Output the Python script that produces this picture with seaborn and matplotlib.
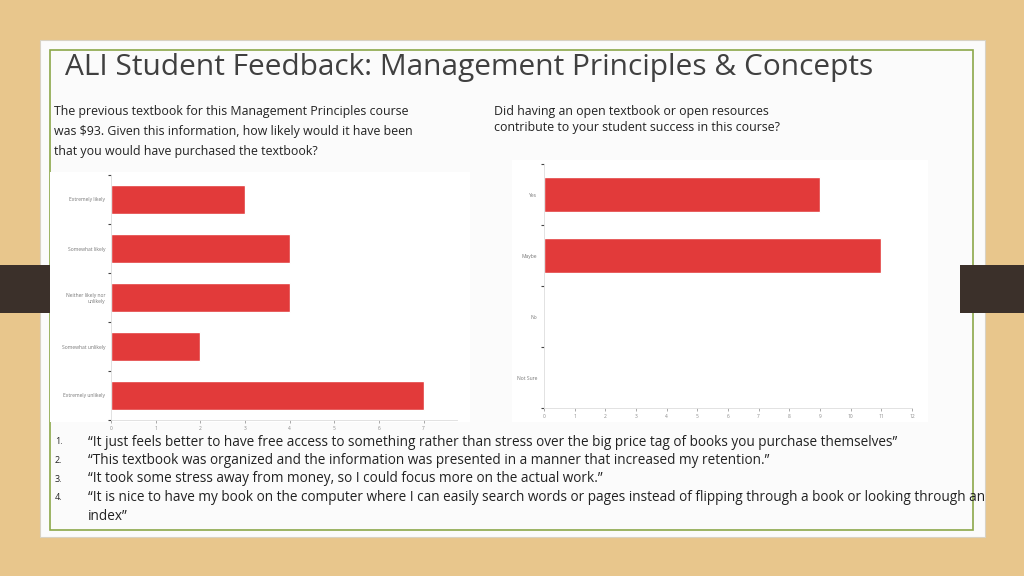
import matplotlib
matplotlib.use("Agg")
import matplotlib.pyplot as plt
import pandas as pd
import seaborn as sns
from matplotlib.patches import Rectangle

TITLE = "ALI Student Feedback: Management Principles & Concepts"

likely_labels = [
    "Extremely likely",
    "Somewhat likely",
    "Neither likely nor\nunlikely",
    "Somewhat unlikely",
    "Extremely unlikely",
]
likely_counts = [3, 4, 4, 2, 7]
likely_question = (
    "The previous textbook for this Management Principles course\n"
    "was $93. Given this information, how likely would it have been\n"
    "that you would have purchased the textbook?"
)

success_labels = ["Yes", "Maybe", "No", "Not Sure"]
success_counts = [9, 11, 0, 0]
success_question = (
    "Did having an open textbook or open resources\n"
    "contribute to your student success in this course?"
)

quotes = [
    "\u201cIt just feels better to have free access to something rather than stress over the big price tag of books you purchase themselves\u201d",
    "\u201cThis textbook was organized and the information was presented in a manner that increased my retention.\u201d",
    "\u201cIt took some stress away from money, so I could focus more on the actual work.\u201d",
    "\u201cIt is nice to have my book on the computer where I can easily search words or pages instead of flipping through a book or looking through an\nindex\u201d",
]

BAR_COLOR = "#E23A3A"
W, H = 1024, 576


def px_axes(fig, x0, y0, x1, y1, **kw):
    return fig.add_axes([x0 / W, 1 - y1 / H, (x1 - x0) / W, (y1 - y0) / H], **kw)


def draw_bar_chart(ax, labels, counts, xmax, ticks, bar_h, ypad):
    df = pd.DataFrame({"label": labels, "count": counts})
    sns.barplot(data=df, x="count", y="label", color=BAR_COLOR, saturation=1,
                width=bar_h, orient="h", ax=ax)
    ax.set_xlim(0, xmax)
    ax.set_ylim(len(labels) - 0.5, -0.5)
    ax.set_xticks(ticks)
    ax.set_xlabel("")
    ax.set_ylabel("")
    ax.tick_params(axis="x", bottom=True, labelsize=3.5, colors="#888888",
                   length=2, width=0.5, pad=2)
    ax.tick_params(axis="y", left=True, labelsize=3.6, colors="#777777", length=0, pad=ypad)
    ax.set_yticks([i - 0.5 for i in range(len(labels) + 1)], minor=True)
    ax.tick_params(axis="y", which="minor", left=True, length=2.5, width=0.8, color="#444444")
    for side in ["top", "right"]:
        ax.spines[side].set_visible(False)
    for side in ["left", "bottom"]:
        ax.spines[side].set_color("#dddddd")
        ax.spines[side].set_linewidth(0.6)
    ax.grid(False)
    ax.set_facecolor("white")


sns.set_theme(style="white")
plt.rcParams["font.family"] = ["Open Sans", "DejaVu Sans"]

fig = plt.figure(figsize=(10.24, 5.76), dpi=100)
fig.patch.set_facecolor("#E8C68C")

# slide panel
bg = fig.add_axes([0, 0, 1, 1])
bg.set_xlim(0, W)
bg.set_ylim(H, 0)
bg.axis("off")
bg.add_patch(Rectangle((40, 40), 945, 497, facecolor="#FBFBFB", edgecolor="#d8d2c4", lw=0.8))
bg.add_patch(Rectangle((50, 50), 923, 480, facecolor="none", edgecolor="#8CA84A", lw=1.2))
bg.add_patch(Rectangle((0, 265), 53, 48, facecolor="#3B302A", edgecolor="none"))
bg.add_patch(Rectangle((960, 265), 64, 48, facecolor="#3B302A", edgecolor="none"))
bg.add_patch(Rectangle((50, 172), 420, 250, facecolor="white", edgecolor="none"))
bg.add_patch(Rectangle((512, 160), 416, 262, facecolor="white", edgecolor="none"))

bg.text(65, 67, TITLE, fontsize=21.5, color="#404040", va="center", ha="left")
bg.text(54, 131.5, likely_question, fontsize=8.9, color="#222222", va="center",
        ha="left", linespacing=1.68)
bg.text(494, 119, success_question, fontsize=8.9, color="#222222", va="center",
        ha="left", linespacing=1.3)

line_y = 442
for i, q in enumerate(quotes):
    bg.text(55, line_y, f"{i + 1}.", fontsize=6.5, color="#222222", va="center", ha="left")
    for part in q.split("\n"):
        bg.text(88, line_y, part, fontsize=9.8, color="#222222", va="center", ha="left")
        line_y += 18.5

ax1 = px_axes(fig, 111, 175, 457, 420)
draw_bar_chart(ax1, likely_labels, likely_counts, 7.75, range(0, 8), 0.6, 4)

ax2 = px_axes(fig, 544, 164, 912, 408)
draw_bar_chart(ax2, success_labels, success_counts, 12, range(0, 13), 0.58, 5)

fig.savefig("out.png", dpi=100, facecolor=fig.get_facecolor())
